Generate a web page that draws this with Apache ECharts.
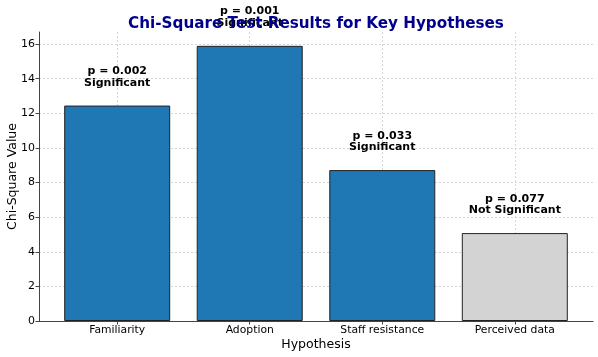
<!DOCTYPE html>
<html><head><meta charset="utf-8">
<script src="https://cdn.jsdelivr.net/npm/echarts@6/dist/echarts.min.js"></script>
<style>html,body{margin:0;padding:0;background:#fff}#c{width:598px;height:357px}</style>
</head><body><div id="c"></div>
<script>
const categories = ["Familiarity", "Adoption", "Staff resistance", "Perceived data"];
const chiSquare = [12.45, 15.9, 8.72, 5.08];
const pValues = ["0.002", "0.001", "0.033", "0.077"];
const significance = ["Significant", "Significant", "Significant", "Not Significant"];
const yTicks = [0, 2, 4, 6, 8, 10, 12, 14, 16];
const xTicks = [0, 1, 2, 3];

const font = "DejaVu Sans";
const chart = echarts.init(document.getElementById('c'), null, {renderer: 'canvas'});
const data = chiSquare.map((v, i) => ({
  value: [i, v],
  itemStyle: {color: significance[i] === "Significant" ? "#1f77b4" : "#d3d3d3"}
}));
chart.setOption({
  animation: false,
  backgroundColor: '#fff',
  title: {
    text: "Chi-Square Test Results for Key Hypotheses",
    left: 311, top: 12, textAlign: 'center',
    textStyle: {fontFamily: font, fontSize: 15.2, fontWeight: 'bold', color: '#00008b'}
  },
  grid: {left: 39, right: 5, top: 32, bottom: 36, containLabel: false, outerBoundsMode: 'none'},
  xAxis: {
    type: 'value', min: -0.59, max: 3.59,
    name: "Hypothesis", nameLocation: 'middle', nameGap: 17, nameMoveOverlap: false,
    nameTextStyle: {fontFamily: font, fontSize: 12.5, color: '#000'},
    axisLine: {show: true, onZero: false, lineStyle: {color: '#444', width: 1}},
    axisTick: {show: true, length: 3.5, lineStyle: {color: '#444'}, customValues: xTicks},
    axisLabel: {customValues: xTicks, formatter: v => categories[Math.round(v)] || '', fontFamily: font, fontSize: 10.8, color: '#000', margin: 4},
    splitLine: {show: true, customValues: xTicks, lineStyle: {color: '#cccccc', type: [2, 2], width: 0.8}}
  },
  yAxis: {
    type: 'value', min: 0, max: 16.7,
    name: "Chi-Square Value", nameLocation: 'middle', nameGap: 20, nameMoveOverlap: false,
    nameTextStyle: {fontFamily: font, fontSize: 12.5, color: '#000'},
    axisLine: {show: true, onZero: false, lineStyle: {color: '#444', width: 1}},
    axisTick: {show: true, length: 3.5, lineStyle: {color: '#444'}, customValues: yTicks},
    axisLabel: {customValues: yTicks, fontFamily: font, fontSize: 11, color: '#000', margin: 4},
    splitLine: {show: true, customValues: yTicks, lineStyle: {color: '#cccccc', type: [2, 2], width: 0.8}}
  },
  series: [{
    type: 'bar', data: data, barWidth: 106,
    itemStyle: {borderColor: '#222', borderWidth: 1},
    label: {
      show: true, position: 'top', distance: 17,
      formatter: p => 'p = ' + pValues[p.dataIndex] + '\n' + significance[p.dataIndex],
      fontFamily: font, fontSize: 11, fontWeight: 'bold', color: '#000', lineHeight: 11.5, align: 'center'
    }
  }]
});
</script></body></html>
